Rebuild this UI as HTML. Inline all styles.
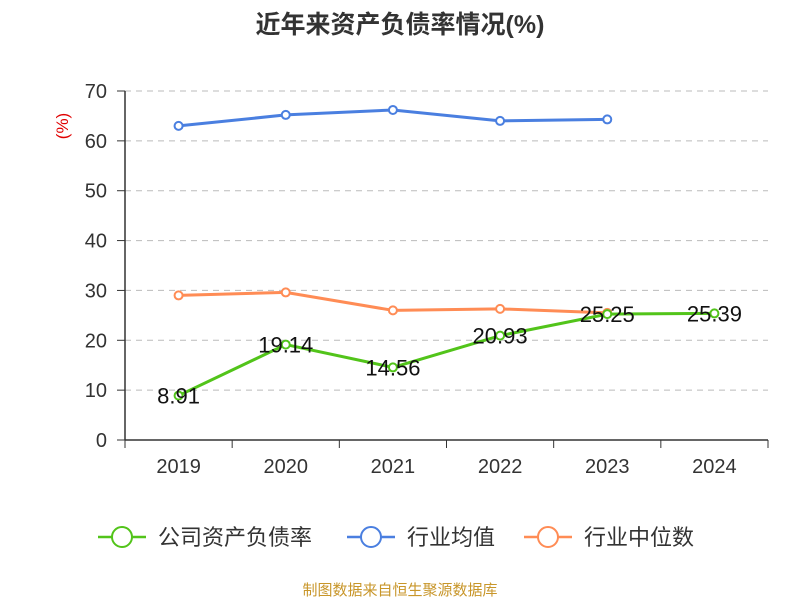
<!DOCTYPE html>
<html><head><meta charset="utf-8"><style>
body{margin:0;background:#fff;}
svg text{font-family:"Liberation Sans","Noto Sans CJK SC",sans-serif;}
</style></head><body>
<svg width="800" height="600" xmlns="http://www.w3.org/2000/svg">
<text x="400" y="33" text-anchor="middle" font-size="25" font-weight="bold" fill="#333">近年来资产负债率情况(%)</text>
<text transform="translate(68,126) rotate(-90)" text-anchor="middle" font-size="17" fill="#e00000">(%)</text>
<g id="grid"></g><g id="xaxis"></g><g id="series"></g>
<g>
<g><line x1="98" y1="537" x2="146" y2="537" stroke="#52c41a" stroke-width="2.5"/><circle cx="122" cy="537" r="10" fill="#fff" stroke="#52c41a" stroke-width="2"/><text x="158" y="545" font-size="22" fill="#333">公司资产负债率</text></g>
<g><line x1="347" y1="537" x2="395" y2="537" stroke="#4a7fe0" stroke-width="2.5"/><circle cx="371" cy="537" r="10" fill="#fff" stroke="#4a7fe0" stroke-width="2"/><text x="407" y="545" font-size="22" fill="#333">行业均值</text></g>
<g><line x1="524" y1="537" x2="572" y2="537" stroke="#ff8c55" stroke-width="2.5"/><circle cx="548" cy="537" r="10" fill="#fff" stroke="#ff8c55" stroke-width="2"/><text x="584" y="545" font-size="22" fill="#333">行业中位数</text></g>
</g>
<text x="400" y="595" text-anchor="middle" font-size="15" fill="#c8962a">制图数据来自恒生聚源数据库</text>
</svg>
<script>
const categories=["2019","2020","2021","2022","2023","2024"];
const yTicks=[0,10,20,30,40,50,60,70];
const company=[8.91,19.14,14.56,20.93,25.25,25.39];
const industryAvg=[63.0,65.2,66.2,64.0,64.3,null];
const industryMedian=[29.0,29.6,26.0,26.3,25.5,null];
const companyLabels=["8.91","19.14","14.56","20.93","25.25","25.39"];
const NS="http://www.w3.org/2000/svg";
const x0=125,x1=768,y0=440,yTop=91,yMax=70;
const bw=(x1-x0)/categories.length;
const xs=i=>x0+bw*(i+0.5);
const ys=v=>y0-(v/yMax)*(y0-yTop);
function mk(tag,attrs,parent,txt){const e=document.createElementNS(NS,tag);for(const k in attrs)e.setAttribute(k,attrs[k]);if(txt!==undefined)e.textContent=txt;parent.appendChild(e);return e;}
const grid=document.getElementById('grid');
yTicks.forEach(t=>{
  if(t>0){const l=mk('line',{x1:x0,x2:x1,y1:ys(t),y2:ys(t),stroke:'#bbb','stroke-dasharray':'6,5'},grid);
  
  }
  const tk=mk('line',{x1:x0-8,x2:x0,y1:ys(t),y2:ys(t),stroke:'#333'},grid);
  
  
  const tx=mk('text',{x:x0-18,y:ys(t)+7,'text-anchor':'end','font-size':'20',fill:'#333'},grid,t);
  
  
});
const ya=mk('line',{x1:x0,x2:x0,y1:yTop,y2:y0,stroke:'#333','stroke-width':1.5},grid);


const xa=document.getElementById('xaxis');
const xl=mk('line',{x1:x0,x2:x1,y1:y0,y2:y0,stroke:'#333','stroke-width':1.5},xa);


for(let i=0;i<=categories.length;i++){const t=mk('line',{x1:x0+bw*i,x2:x0+bw*i,y1:y0,y2:y0+8,stroke:'#333'},xa);

}
categories.forEach((c,i)=>{const t=mk('text',{x:xs(i),y:y0+33,'text-anchor':'middle','font-size':'20',fill:'#333'},xa,c);

});
const sg=document.getElementById('series');
function series(data,color,name){
  const g=mk('g',{},sg);
  
  
  const pts=[];data.forEach((v,i)=>{if(v!==null)pts.push(xs(i)+','+ys(v));});
  const pl=mk('polyline',{points:pts.join(' '),fill:'none',stroke:color,'stroke-width':3},g);
  
  
  data.forEach((v,i)=>{if(v===null)return;const c=mk('circle',{cx:xs(i),cy:ys(v),r:4,fill:'#fff',stroke:color,'stroke-width':2},g);
  
  });
}
series(industryAvg,'#4a7fe0','industry-average');
series(industryMedian,'#ff8c55','industry-median');
series(company,'#52c41a','company');
company.forEach((v,i)=>{const t=mk('text',{x:xs(i),y:ys(v)+8,'text-anchor':'middle','font-size':'22',fill:'#111'},sg,companyLabels[i]);

});
</script>
</body></html>
